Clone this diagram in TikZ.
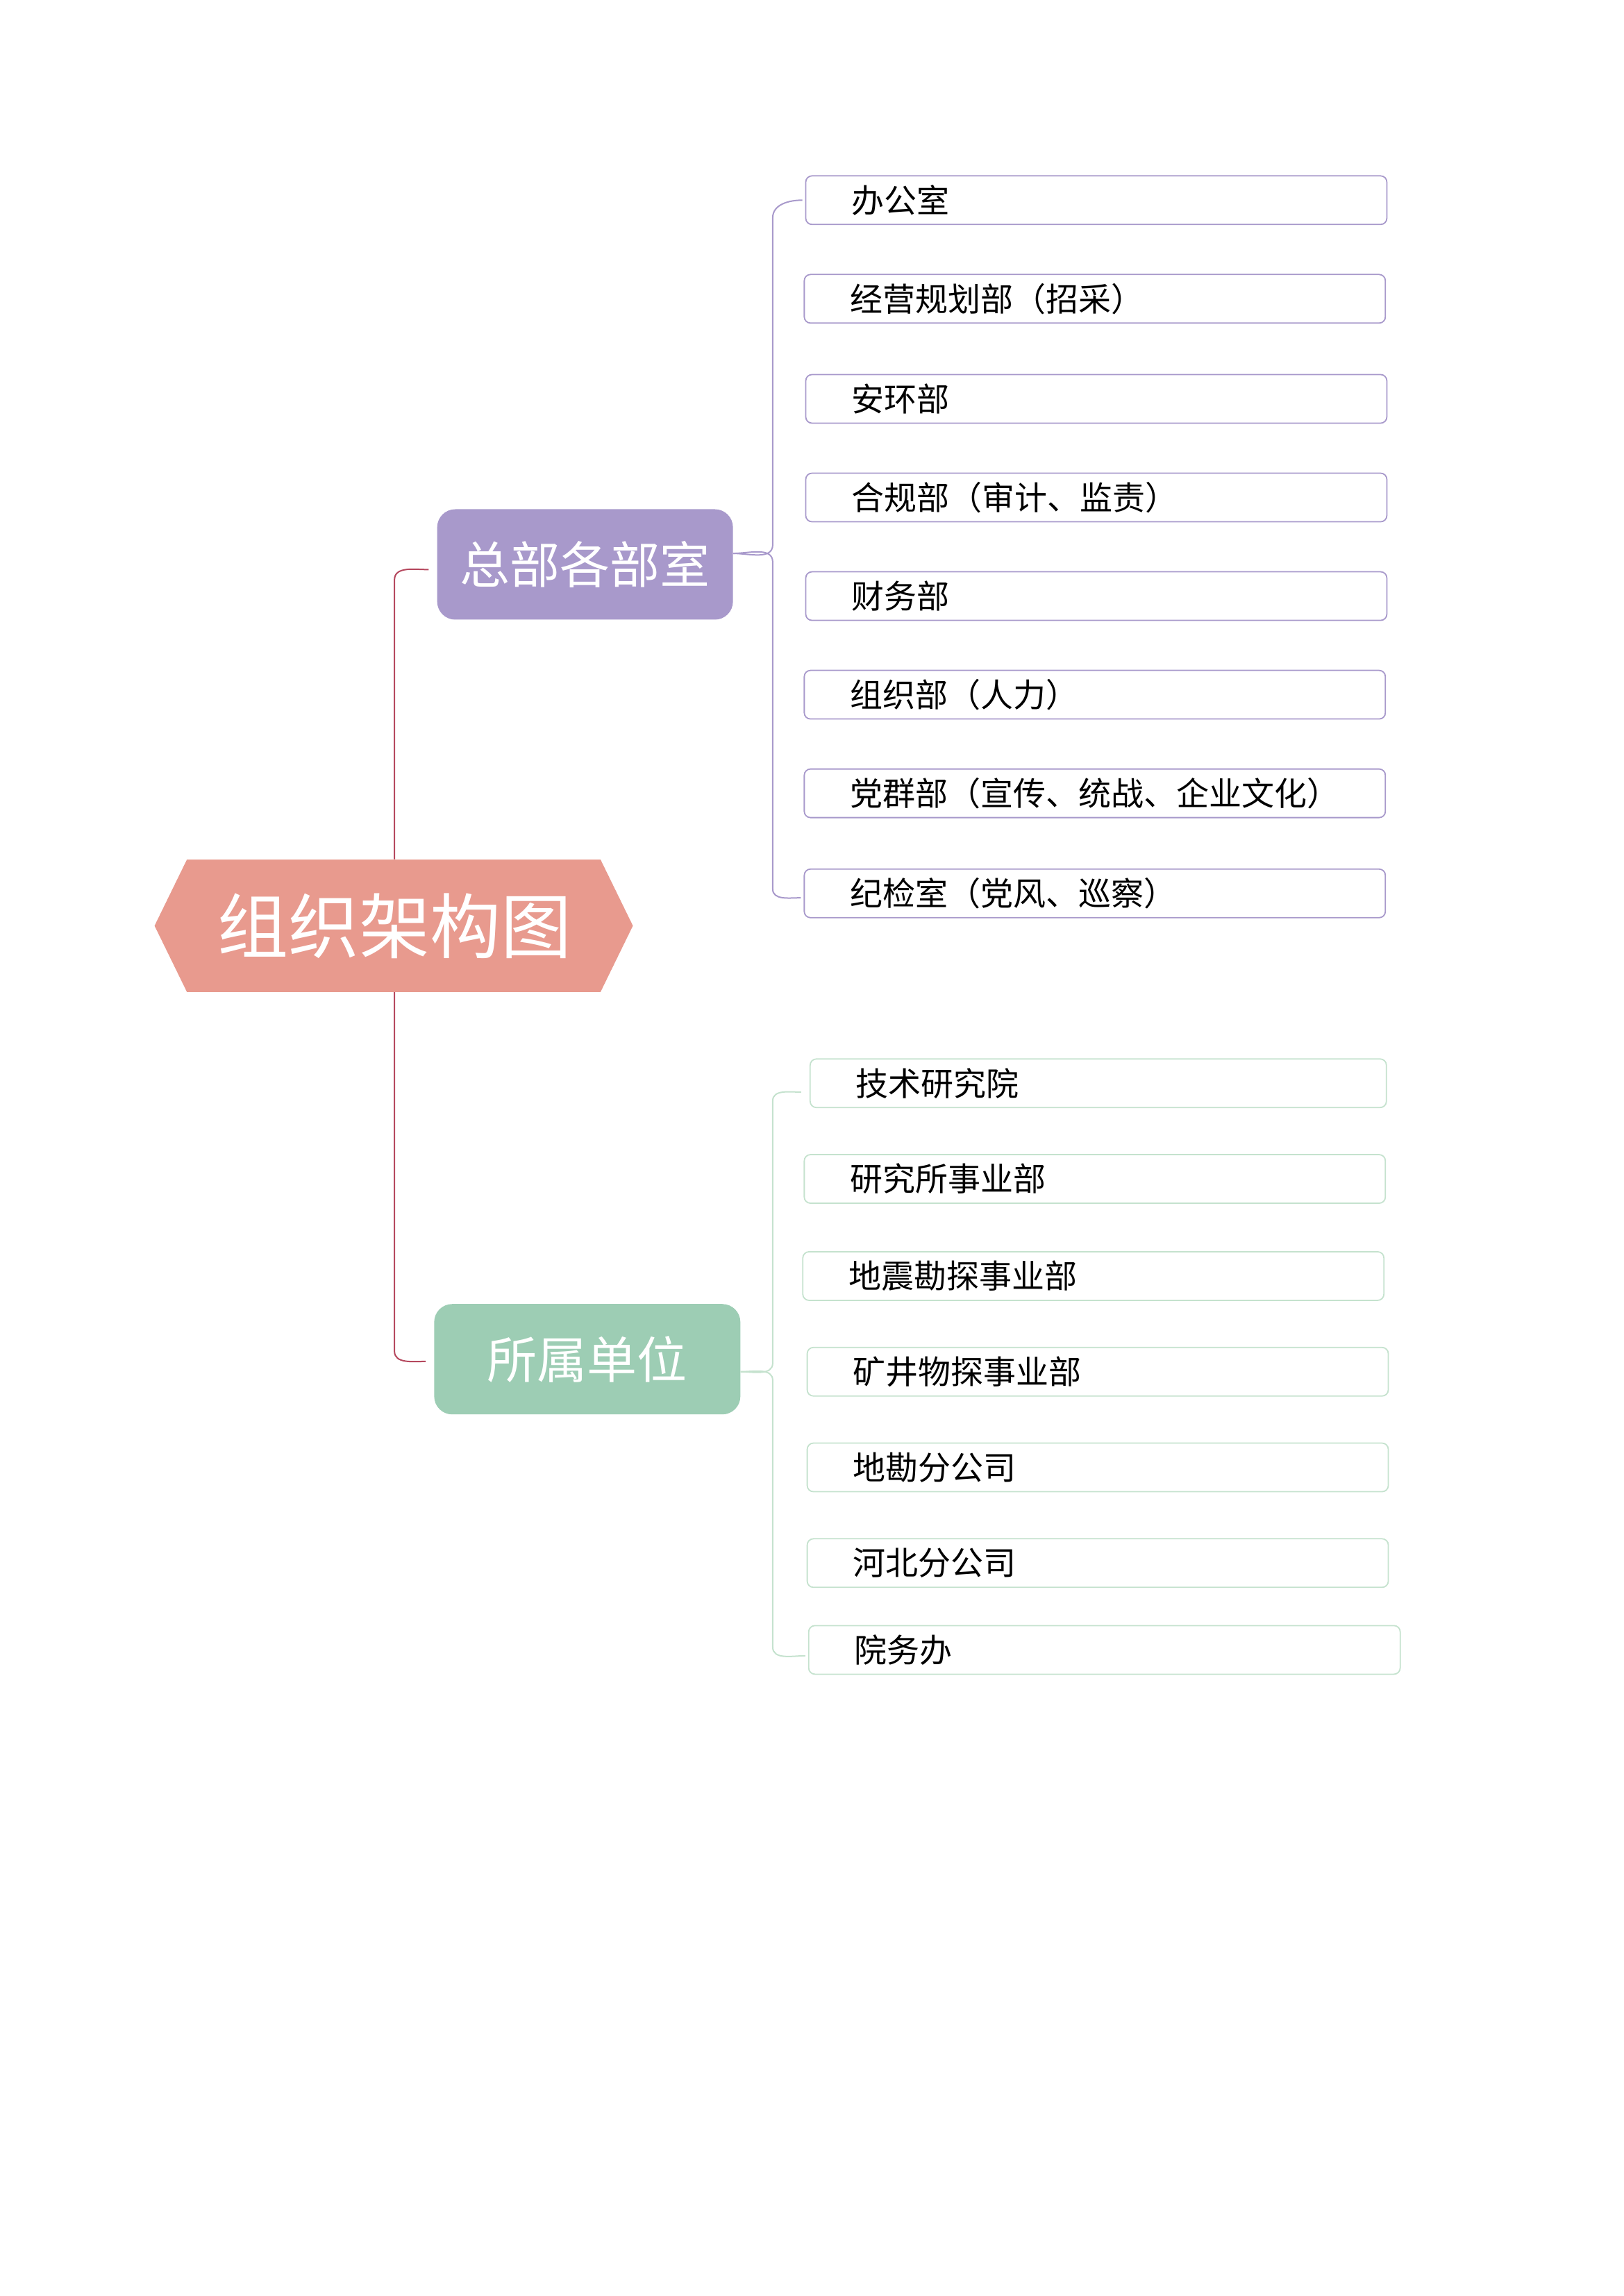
\documentclass[tikz,border=0pt]{standalone}
\usepackage{fontspec}
\setmainfont{Noto Sans CJK SC}
\definecolor{rootc}{HTML}{E89A8E}
\definecolor{purp}{HTML}{A899CB}
\definecolor{grn}{HTML}{9DCDB4}
\definecolor{grnl}{HTML}{C5E2CE}
\definecolor{redl}{HTML}{B5485E}
\begin{document}
\begin{tikzpicture}[x=2.12pt,y=-2.12pt,
  leafp/.style={draw=purp,line width=1.8pt,rounded corners=9pt,minimum width=837pt,minimum height=70pt,text width=705pt,inner xsep=66pt,align=left,anchor=west,font=\fontsize{47pt}{50pt}\selectfont},
  leafg/.style={leafp,draw=grnl},
  mid/.style={rounded corners=26pt,minimum height=159pt,text=white,font=\fontsize{72pt}{76pt}\selectfont},
  conp/.style={draw=purp,line width=2pt},
  cong/.style={draw=grnl,line width=2pt},
  conr/.style={draw=redl,line width=2pt}]
\useasboundingbox (0,0) rectangle (1103,1560);
% root
\fill[rootc] (105,629) -- (127,584) -- (408,584) -- (430,629) -- (408,674) -- (127,674) -- cycle;
\node[text=white,font=\fontsize{102pt}{106pt}\selectfont,minimum height=191pt] (root) at (268,629) {组织架构图};
\node[mid,fill=purp,minimum width=426pt] (hq) at (397.5,383.5) {总部各部室};
\node[mid,fill=grn,minimum width=441pt] (sub) at (399,923.5) {所属单位};
% purple leaves
\node[leafp] (p1) at (547,136) {办公室};
\node[leafp] (p2) at (546,203) {经营规划部（招采）};
\node[leafp] (p3) at (547,271) {安环部};
\node[leafp] (p4) at (547,338) {合规部（审计、监责）};
\node[leafp] (p5) at (547,405) {财务部};
\node[leafp] (p6) at (546,472) {组织部（人力）};
\node[leafp] (p7) at (546,539) {党群部（宣传、统战、企业文化）};
\node[leafp] (p8) at (546,607) {纪检室（党风、巡察）};
% green leaves
\node[leafg,minimum width=830pt,text width=698pt] (g1) at (550,736) {技术研究院};
\node[leafg] (g2) at (546,801) {研究所事业部};
\node[leafg] (g3) at (545,867) {地震勘探事业部};
\node[leafg] (g4) at (548,932) {矿井物探事业部};
\node[leafg] (g5) at (548,997) {地勘分公司};
\node[leafg] (g6) at (548,1062) {河北分公司};
\node[leafg,minimum width=852pt,text width=720pt] (g7) at (549,1121) {院务办};
% root connectors
\draw[conr] (root.north) -- (268,394) to[out=90,in=180] ([xshift=-12pt]hq.west |- 0,387) coordinate (hqin);
\draw[conr] (root.south) -- (268,918) to[out=-90,in=180] ([xshift=-12pt]sub.west |- 0,925) coordinate (subin);
% purple bracket
\coordinate (pt) at (525,148);
\coordinate (pb) at (525,604);
\draw[conp] ([xshift=-4pt]p1.west) to[out=180,in=90] (pt) -- (525,370) to[out=-90,in=0] (hq.east |- 0,376);
\draw[conp] (hq.east |- 0,376) to[out=0,in=90] (525,382) -- (pb) to[out=-90,in=180] ([xshift=-4pt]p8.west |- 0,610);
% green bracket
\coordinate (gt) at (525,748);
\coordinate (gb) at (525,1119);
\draw[cong] ([xshift=-12pt]g1.west |- 0,742) to[out=180,in=90] (gt) -- (525,926) to[out=-90,in=0] (sub.east |- 0,932);
\draw[cong] (sub.east |- 0,932) to[out=0,in=90] (525,938) -- (gb) to[out=-90,in=180] ([xshift=-4pt]g7.west |- 0,1125);
\end{tikzpicture}
\end{document}
